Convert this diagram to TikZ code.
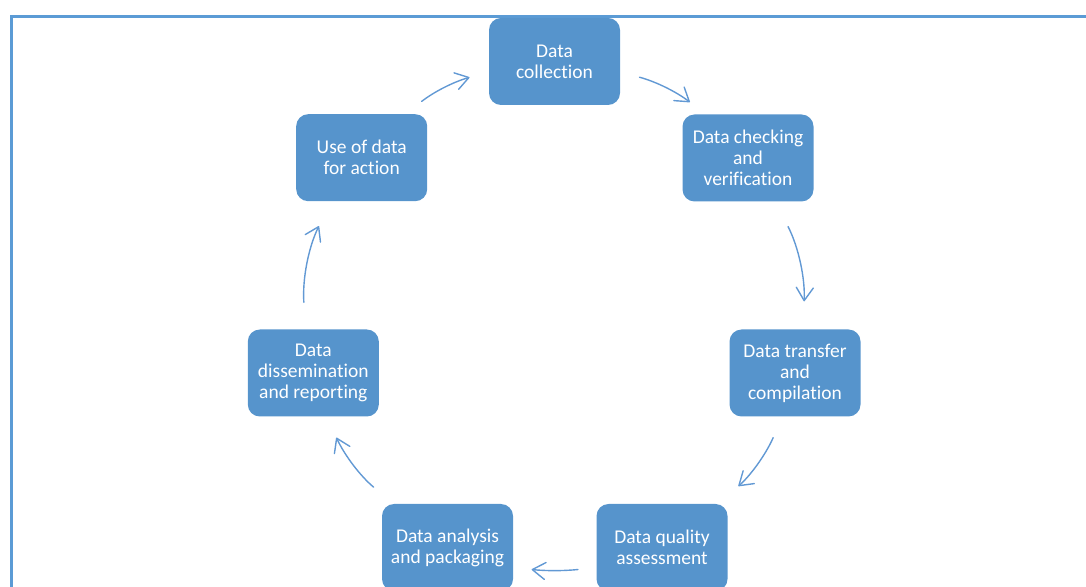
\documentclass[tikz,border=0pt]{standalone}
\usepackage{fontspec}
\setmainfont{Carlito}[Ligatures={NoCommon}]
\usetikzlibrary{arrows.meta}
\definecolor{boxblue}{RGB}{86,148,204}
\definecolor{lineblue}{RGB}{98,153,212}
\definecolor{frameblue}{RGB}{91,155,213}
\begin{document}
\begin{tikzpicture}[x=1pt,y=1pt,
    stage/.style={rectangle, rounded corners=12pt, fill=boxblue, text=white,
      minimum width=131pt, minimum height=87pt, inner sep=0pt, align=center,
      font=\fontsize{19.5}{21}\selectfont},
    flow/.style={draw=lineblue, line width=1.4pt, line cap=round,
      -{Straight Barb[length=13pt,width=17pt,round]}}]
        \useasboundingbox (0,0) rectangle (1086,586);
        \clip (0,0) rectangle (1086,586);
        \draw[frameblue, line width=3pt] (11.5,-20) rectangle (1110,569.5);
        \node[stage] (coll) at (554.5,524.5) {Data\\collection};
        \node[stage] (check) at (748,428) {Data checking\\and\\verification};
        \node[stage] (trans) at (795,213) {Data transfer\\and\\compilation};
        \node[stage] (qual) at (662,38.5) {Data quality\\assessment};
        \node[stage] (anal) at (447.5,38.5) {Data analysis\\and packaging};
        \node[stage] (diss) at (313.3,213) {Data\\dissemination\\and reporting};
        \node[stage] (use) at (361.7,428.3) {Use of data\\for action};
        \draw[flow, shorten <=20pt, shorten >=20pt] (coll.-9.6) to[bend left=11] (check.134.6);
        \draw[flow, shorten <=28pt, shorten >=28pt] (check.-58) to[bend left=15] (trans.80);
        \draw[flow, shorten <=23pt, shorten >=27pt] (trans.-106) to[bend left=12.6] (qual.38.3);
        \draw[flow, shorten <=18.5pt, shorten >=18.5pt] (qual.197.4) to[bend left=6] (anal.-17.4);
        \draw[flow, shorten <=26pt, shorten >=23pt] (anal.141.9) to[bend left=12.6] (diss.-73.1);
        \draw[flow, shorten <=27pt, shorten >=27.5pt] (diss.100.8) to[bend left=15] (use.235.1);
        \draw[flow, shorten <=20.5pt, shorten >=20pt] (use.45.7) to[bend left=11] (coll.189.7);
    \end{tikzpicture}
\end{document}
